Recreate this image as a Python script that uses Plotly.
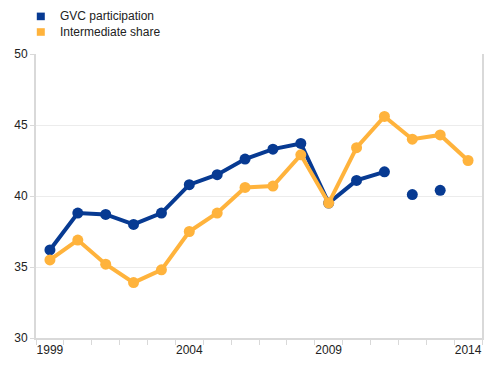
import plotly.graph_objects as go

years = list(range(1999, 2015))
gvc_line = [36.2, 38.8, 38.7, 38.0, 38.8, 40.8, 41.5, 42.6, 43.3, 43.7, 39.5, 41.1, 41.7, None, None, None]
gvc_dots = [None, None, None, None, None, None, None, None, None, None, None, None, None, 40.1, 40.4, None]
intermediate = [35.5, 36.9, 35.2, 33.9, 34.8, 37.5, 38.8, 40.6, 40.7, 42.9, 39.5, 43.4, 45.6, 44.0, 44.3, 42.5]
series_names = ["GVC participation", "Intermediate share"]
xtick_labels = [1999, 2004, 2009, 2014]
ytick_vals = [30, 35, 40, 45, 50]

BLUE = "#073a92"
ORANGE = "#ffb33c"
colors = [BLUE, ORANGE]

W, H = 486, 363
ML, MR, MT, MB = 28, 12, 46, 33
PW, PH = W - ML - MR, H - MT - MB


def px_x(x):
    return (x - ML) / PW


def px_y(y):
    return 1 + (MT - y) / PH


fig = go.Figure()
fig.add_trace(go.Scatter(x=years, y=gvc_line, mode="lines+markers", name=series_names[0],
                         showlegend=False,
                         line=dict(color=BLUE, width=4), marker=dict(color=BLUE, size=11)))
fig.add_trace(go.Scatter(x=years, y=gvc_dots, mode="markers", name=series_names[0],
                         showlegend=False, marker=dict(color=BLUE, size=11)))
fig.add_trace(go.Scatter(x=years, y=intermediate, mode="lines+markers", name=series_names[1],
                         showlegend=False,
                         line=dict(color=ORANGE, width=4), marker=dict(color=ORANGE, size=11)))

# legend drawn as squares + text
row_centers = [8.4, 24.0]
for name, col, yc in zip(series_names, colors, row_centers):
    fig.add_shape(type="rect", xref="paper", yref="paper",
                  x0=px_x(28.8), x1=px_x(36.8), y0=px_y(yc - 3.8), y1=px_y(yc + 3.8),
                  fillcolor=col, line=dict(width=0))
    fig.add_annotation(text=name, xref="paper", yref="paper", x=px_x(49.5), y=px_y(yc),
                       xanchor="left", yanchor="middle", showarrow=False,
                       font=dict(size=12, color="#222"))

fig.update_layout(
    width=W, height=H,
    margin=dict(l=ML, r=MR, t=MT, b=MB, autoexpand=False),
    paper_bgcolor="white", plot_bgcolor="white",
    font=dict(family="Liberation Sans, Arial, sans-serif", size=12, color="#222"),
    showlegend=False,
)
fig.update_xaxes(range=[1998.5, 2014.5], tickvals=xtick_labels, ticks="", showgrid=False,
                 showline=True, linecolor="#d9d9d9", linewidth=2, mirror=False,
                 minor=dict(tickvals=[y + 0.5 for y in range(1998, 2015)], ticks="outside",
                            ticklen=5, tickcolor="#d9d9d9", tickwidth=1, showgrid=False),
                 zeroline=False, tickfont=dict(size=12))
fig.update_yaxes(range=[30, 50], tickvals=ytick_vals, ticks="outside", ticklen=4,
                 tickcolor="#d9d9d9", showgrid=True, gridcolor="#ececec", gridwidth=1,
                 showline=True, linecolor="#d9d9d9", linewidth=2, mirror=True, zeroline=False,
                 tickfont=dict(size=12))

fig.write_html("out.html")
